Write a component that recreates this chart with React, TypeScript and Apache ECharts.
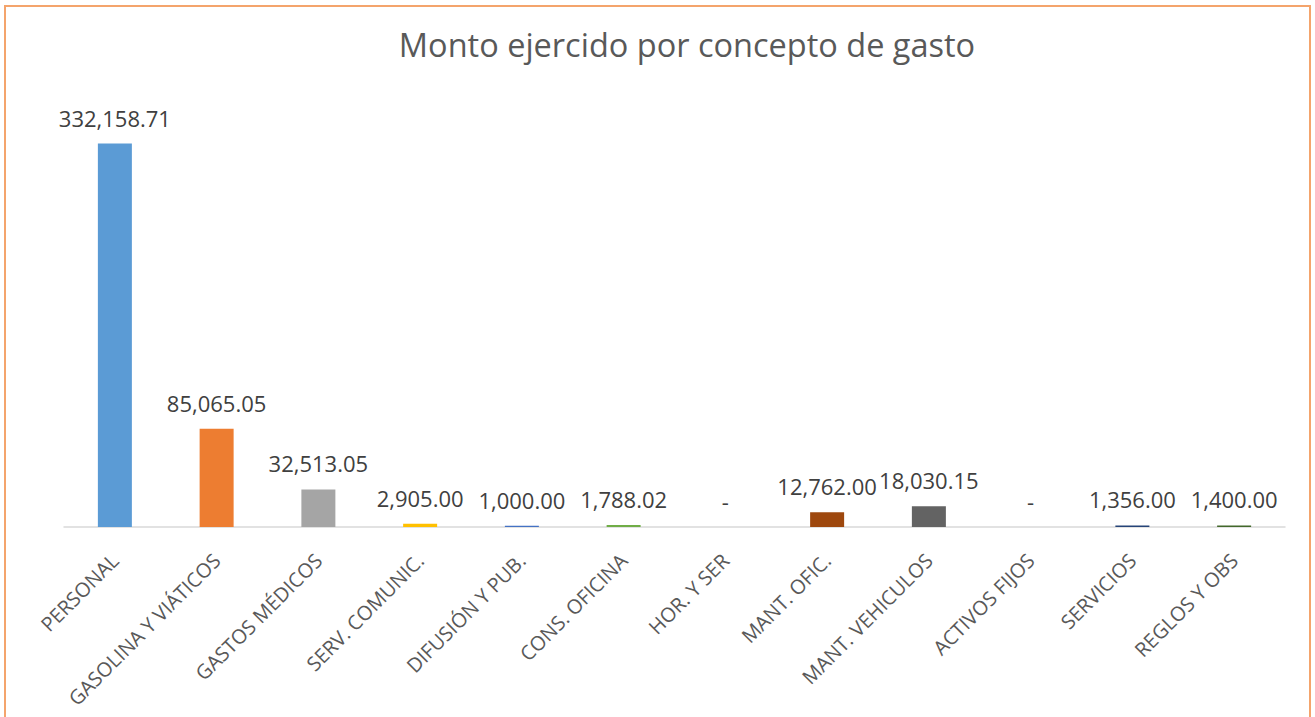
import React, { useEffect, useRef } from "react";
import * as echarts from "echarts";

const categories = [
  "PERSONAL",
  "GASOLINA Y VIÁTICOS",
  "GASTOS MÉDICOS",
  "SERV. COMUNIC.",
  "DIFUSIÓN Y PUB.",
  "CONS. OFICINA",
  "HOR. Y SER",
  "MANT. OFIC.",
  "MANT. VEHICULOS",
  "ACTIVOS FIJOS",
  "SERVICIOS",
  "REGLOS Y OBS",
];
const values = [332158.71, 85065.05, 32513.05, 2905.0, 1000.0, 1788.02, 0, 12762.0, 18030.15, 0, 1356.0, 1400.0];
const barColors = [
  "#5B9BD5",
  "#ED7D31",
  "#A5A5A5",
  "#FFC000",
  "#4472C4",
  "#70AD47",
  "#255E91",
  "#9E480E",
  "#636363",
  "#997300",
  "#264478",
  "#43682B",
];
const titleText = "Monto ejercido por concepto de gasto";

const fmt = (v: number) =>
  v === 0 ? "-" : v.toLocaleString("en-US", { minimumFractionDigits: 2, maximumFractionDigits: 2 });

export default function App() {
  const ref = useRef<HTMLDivElement>(null);
  useEffect(() => {
    if (!ref.current) return;
    const chart = echarts.init(ref.current, undefined, { renderer: "svg" });
    const font = "'Open Sans', 'Noto Sans', sans-serif";
    chart.setOption({
      animation: false,
      backgroundColor: "#ffffff",
      title: {
        text: titleText,
        left: 682,
        top: 23,
        textAlign: "center",
        textStyle: { fontFamily: font, fontSize: 32.5, fontWeight: "normal", color: "#595959" },
      },
      graphic: [
        {
          type: "rect",
          shape: { x: 5, y: 6, width: 1305, height: 720 },
          style: { fill: "none", stroke: "#F4A46C", lineWidth: 2 },
          silent: true,
        },
      ],
      grid: { left: 64, right: 30, top: 123, bottom: 190, containLabel: false },
      xAxis: {
        type: "category",
        data: categories,
        axisLine: { lineStyle: { color: "#D9D9D9", width: 1.5 } },
        axisTick: { show: false },
        axisLabel: {
          rotate: 45,
          interval: 0,
          margin: 30,
          fontFamily: font,
          fontSize: 20,
          color: "#595959",
        },
      },
      yAxis: {
        type: "value",
        min: 0,
        max: 350000,
        show: false,
        splitLine: { show: false },
      },
      series: [
        {
          type: "bar",
          barWidth: 34,
          data: values.map((v, i) => ({ value: v, itemStyle: { color: barColors[i] } })),
          label: {
            show: true,
            position: "top",
            distance: 15,
            fontFamily: font,
            fontSize: 22,
            color: "#404040",
            formatter: (p: any) => fmt(p.value),
          },
        },
      ],
    });
    return () => chart.dispose();
  }, []);
  return <div ref={ref} style={{ position: "fixed", left: 0, top: 0, width: 1315, height: 717 }} />;
}
